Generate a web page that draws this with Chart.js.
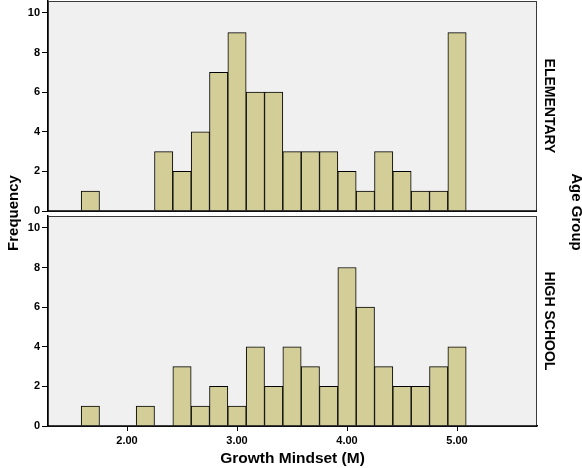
<!DOCTYPE html>
<html>
<head>
<meta charset="utf-8">
<script src="https://cdn.jsdelivr.net/npm/chart.js@4/dist/chart.umd.min.js"></script>
<style>
  html, body { margin: 0; padding: 0; background: #ffffff; }
  #wrap { position: relative; width: 582px; height: 468px; }
  #wrap canvas { position: absolute; left: 0; top: 0; }
</style>
</head>
<body>
<div id="wrap">
  <canvas id="bottom" width="582" height="468"></canvas>
  <canvas id="top" width="582" height="468"></canvas>
</div>
<script>
// ---- data ----
const binCenters = [1.6667, 1.8333, 2.0, 2.1667, 2.3333, 2.5, 2.6667, 2.8333, 3.0, 3.1667, 3.3333,
                    3.5, 3.6667, 3.8333, 4.0, 4.1667, 4.3333, 4.5, 4.6667, 4.8333, 5.0];
const elementaryCounts = [1, 0, 0, 0, 3, 2, 4, 7, 9, 6, 6, 3, 3, 3, 2, 1, 3, 2, 1, 1, 9];
const highSchoolCounts = [1, 0, 0, 1, 0, 3, 1, 2, 1, 4, 2, 4, 3, 2, 8, 6, 3, 2, 2, 3, 4];
const panelLabels = ['ELEMENTARY', 'HIGH SCHOOL'];
const xTickValues = [2, 3, 4, 5];
const yTickValues = [0, 2, 4, 6, 8, 10];
const xTitle = 'Growth Mindset (M)';
const yTitle = 'Frequency';
const groupTitle = 'Age Group';

// ---- styles ----
const FONT = "'Liberation Sans', Arial, sans-serif";
const BAR_FILL = '#d3ce97';
const PANEL_BG = '#f0f0f0';

function toPoints(counts) {
  return binCenters.map((x, i) => ({ x: x, y: counts[i] === 0 ? null : counts[i] }));
}

function panelPlugin(label, drawOuter) {
  return {
    id: 'panel_' + label.replace(/\s/g, ''),
    beforeDatasetsDraw(chart) {
      const a = chart.chartArea, ctx = chart.ctx;
      ctx.save();
      ctx.fillStyle = PANEL_BG;
      ctx.fillRect(a.left, a.top, a.right - a.left, a.bottom - a.top);
      ctx.restore();
    },
    afterDraw(chart) {
      const a = chart.chartArea, ctx = chart.ctx;
      ctx.save();
      ctx.strokeStyle = '#3a3a3a';
      ctx.lineWidth = 1;
      ctx.strokeRect(a.left + 0.5, a.top + 0.5, a.right - a.left - 1, a.bottom - a.top);
      ctx.strokeStyle = '#000';
      ctx.lineWidth = 1.5;
      ctx.beginPath();
      ctx.moveTo(a.left, a.bottom);
      ctx.lineTo(a.right, a.bottom);
      ctx.stroke();
      // strip label
      ctx.fillStyle = '#000';
      ctx.font = 'bold 14px ' + FONT;
      ctx.textAlign = 'center';
      ctx.textBaseline = 'middle';
      ctx.translate(549, (a.top + a.bottom) / 2);
      ctx.rotate(Math.PI / 2);
      ctx.fillText(label, 0, 0);
      ctx.restore();
      if (drawOuter) {
        ctx.save();
        ctx.fillStyle = '#000';
        ctx.font = 'bold 15px ' + FONT;
        ctx.textAlign = 'center';
        ctx.textBaseline = 'middle';
        ctx.save();
        ctx.translate(14, 213);
        ctx.rotate(-Math.PI / 2);
        ctx.fillText(yTitle, 0, 0);
        ctx.restore();
        ctx.save();
        ctx.translate(576, 212);
        ctx.rotate(Math.PI / 2);
        ctx.fillText(groupTitle, 0, 0);
        ctx.restore();
        ctx.restore();
      }
    }
  };
}

function makeChart(canvasId, counts, label, isBottom) {
  const ctx = document.getElementById(canvasId);
  return new Chart(ctx, {
    type: 'bar',
    data: {
      datasets: [{
        data: toPoints(counts),
        backgroundColor: BAR_FILL,
        borderColor: '#000',
        borderWidth: 1,
        borderSkipped: 'start',
        barPercentage: 1.0,
        categoryPercentage: 1.0
      }]
    },
    options: {
      responsive: false,
      animation: false,
      devicePixelRatio: 1,
      layout: {
        padding: isBottom ? { top: 216, right: 45, bottom: 0, left: 0 }
                          : { top: 1, right: 45, bottom: 257, left: 0 }
      },
      plugins: {
        legend: { display: false },
        tooltip: { enabled: false },
        title: { display: false }
      },
      scales: {
        x: {
          type: 'linear',
          min: 1.2818,
          max: 5.727,
          display: isBottom,
          offset: false,
          afterBuildTicks(scale) { scale.ticks = xTickValues.map(v => ({ value: v })); },
          afterFit(scale) {
            if (isBottom) { scale.height = 42; } else { scale.height = 0; }
            scale.paddingLeft = 0; scale.paddingRight = 0;
          },
          grid: { offset: false, drawOnChartArea: false, drawTicks: true, tickLength: 5, color: '#000', lineWidth: 1 },
          border: { display: true, color: '#000', width: 1.5 },
          ticks: {
            color: '#000',
            padding: 3,
            maxRotation: 0,
            autoSkip: false,
            font: { family: FONT, size: 11, weight: 'bold' },
            callback: v => Number(v).toFixed(2)
          },
          title: {
            display: true,
            text: xTitle,
            color: '#000',
            padding: { top: 0, bottom: 0 },
            font: { family: FONT, size: 15.5, weight: 'bold' }
          }
        },
        y: {
          min: 0,
          max: 10.6,
          afterBuildTicks(scale) { scale.ticks = yTickValues.map(v => ({ value: v })); },
          afterFit(scale) { scale.width = 48; scale.paddingTop = 0; scale.paddingBottom = 0; },
          grid: { drawOnChartArea: false, drawTicks: true, tickLength: 6, color: '#000', lineWidth: 1 },
          border: { display: true, color: '#000', width: 1.5 },
          ticks: {
            color: '#000',
            padding: 2,
            font: { family: FONT, size: 11, weight: 'bold' }
          }
        }
      }
    },
    plugins: [panelPlugin(label, isBottom)]
  });
}

makeChart('bottom', highSchoolCounts, panelLabels[1], true);
makeChart('top', elementaryCounts, panelLabels[0], false);
</script>
</body>
</html>
